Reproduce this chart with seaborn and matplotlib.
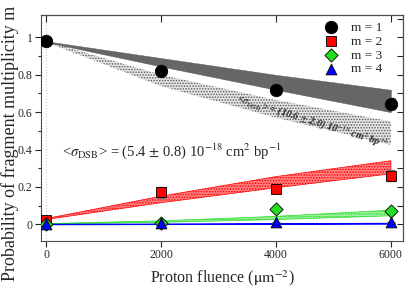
"""
Fragment multiplicity probability vs proton fluence, with model bands.
"""
import matplotlib
matplotlib.use("Agg")
import matplotlib.pyplot as plt
import numpy as np
import pandas as pd
import seaborn as sns

# measured points
fluence = [0, 2000, 4000, 6000]
prob_m1 = [0.98, 0.82, 0.72, 0.645]
prob_m2 = [0.02, 0.17, 0.19, 0.26]
prob_m3 = [0.0, 0.005, 0.08, 0.07]
prob_m4 = [0.0, 0.005, 0.01, 0.01]
err_m1 = [0.01, 0.02, 0.025, 0.03]
err_m2 = [0.01, 0.03, 0.025, 0.03]
err_m3 = [0.005, 0.005, 0.01, 0.01]
err_m4 = [0.004, 0.004, 0.004, 0.004]

# model bands (lower / upper edge at the same fluences)
band_m1_lo = [0.975, 0.845, 0.72, 0.60]
band_m1_hi = [0.98, 0.89, 0.80, 0.72]
band_alt_lo = [0.975, 0.74, 0.57, 0.425]
band_alt_hi = [0.98, 0.80, 0.665, 0.55]
band_m2_lo = [0.025, 0.115, 0.195, 0.27]
band_m2_hi = [0.03, 0.15, 0.255, 0.34]
band_m3_lo = [0.0, 0.01, 0.025, 0.045]
band_m3_hi = [0.003, 0.018, 0.042, 0.075]
band_m4_lo = [0.0, 0.001, 0.002, 0.003]
band_m4_hi = [0.002, 0.003, 0.005, 0.007]

labels = ["m = 1", "m = 2", "m = 3", "m = 4"]
colors = ["black", "red", "#22dd22", "blue"]
markers = ["o", "s", "D", "^"]

sns.set_style("ticks")
plt.rcParams["font.family"] = ["Liberation Serif", "DejaVu Serif"]
plt.rcParams["mathtext.fontset"] = "stix"
plt.rcParams["hatch.linewidth"] = 0.7

fig = plt.figure(figsize=(4.05, 2.9), dpi=100)
ax = fig.add_axes([0.101, 0.169, 0.894, 0.779])

ax.axvline(0, color="0.8", ls=":", lw=0.8, zorder=0)

# bands
ax.fill_between(fluence, band_alt_lo, band_alt_hi, facecolor="#e4e4e4",
                edgecolor="0.35", hatch="......", lw=0, zorder=1)
ax.fill_between(fluence, band_m1_lo, band_m1_hi, facecolor="#666666",
                edgecolor="0.35", lw=0.3, zorder=2)
ax.fill_between(fluence, band_m2_lo, band_m2_hi, facecolor="#ff8080",
                edgecolor="red", hatch="......", lw=0.5, zorder=2)
ax.fill_between(fluence, band_m3_lo, band_m3_hi, facecolor="#a0f0a0",
                edgecolor="#22dd22", hatch="......", lw=0.5, zorder=2)
ax.fill_between(fluence, band_m4_lo, band_m4_hi, facecolor="#8080ff",
                edgecolor="blue", lw=0.8, zorder=2)

probs = [prob_m1, prob_m2, prob_m3, prob_m4]
errs = [err_m1, err_m2, err_m3, err_m4]
for p, e in zip(probs, errs):
    ax.errorbar(fluence, p, yerr=e, fmt="none", ecolor="0.45",
                elinewidth=1, capsize=3, capthick=1, zorder=3)

df = pd.DataFrame({
    "fluence": fluence * 4,
    "prob": prob_m1 + prob_m2 + prob_m3 + prob_m4,
    "m": [lab for lab in labels for _ in fluence],
})
sizes = {"m = 1": 80, "m = 2": 55, "m = 3": 45, "m = 4": 60}
for lab, col, mk in zip(labels, colors, markers):
    sub = df[df["m"] == lab]
    sns.scatterplot(data=sub, x="fluence", y="prob", color=col, marker=mk,
                    s=sizes[lab], edgecolor="black", linewidth=0.6,
                    ax=ax, zorder=4, label=lab)

ax.set_xlim(-90, 6210)
ax.set_ylim(-0.09, 1.12)
ax.set_xticks([0, 2000, 4000, 6000])
ax.set_yticks([0, 0.2, 0.4, 0.6, 0.8, 1.0])
ax.set_yticklabels(["0", "0.2", "0.4", "0.6", "0.8", "1"])
ax.set_yticks(np.arange(0.1, 1.1, 0.2), minor=True)
ax.tick_params(axis="both", which="both", direction="out", labelsize=8.5,
               top=False, right=False, width=0.8, pad=2)
ax.tick_params(which="major", length=4)
ax.tick_params(which="minor", length=2.5)

# inward ticks on top / right
sec_x = ax.secondary_xaxis("top")
sec_x.set_xticks([0, 2000, 4000, 6000])
sec_x.tick_params(direction="in", length=5, labeltop=False, width=0.8)
sec_y = ax.secondary_yaxis("right")
sec_y.set_yticks(np.arange(0, 1.11, 0.1))
sec_y.tick_params(direction="in", length=4, labelright=False, width=0.8)
for sp in ax.spines.values():
    sp.set_linewidth(0.8)
    sp.set_color("0.3")

ax.set_xlabel(r"Proton fluence ($\mathrm{\mu m^{-2}}$)", fontsize=11.5,
              labelpad=5)
ax.set_ylabel("")
fig.text(10 / 405, 1 - 281 / 290, "Probability of fragment multiplicity m",
         rotation=90, fontsize=13, ha="center", va="bottom")

ax.text(270, 0.368,
        r"<$\sigma_{\mathrm{DSB}}$> = (5.4 $\pm$ 0.8) 10$^{-18}$ cm$^{2}$ bp$^{-1}$",
        fontsize=10.5, ha="left", va="baseline", zorder=5)
ax.text(4640, 0.55,
        r"<$\sigma_{\mathrm{DSB}}$> = (10.6 $\pm$ 2.0) 10$^{-18}$ cm$^{2}$ bp$^{-1}$",
        fontsize=7.3, style="italic", weight="bold", rotation=-17,
        ha="center", va="center", zorder=5)

ax.legend(loc="upper right", frameon=False, fontsize=9.5,
          handletextpad=0.5, labelspacing=0.12, borderaxespad=0.1,
          bbox_to_anchor=(0.96, 1.0))

fig.savefig("out.png", dpi=100)
